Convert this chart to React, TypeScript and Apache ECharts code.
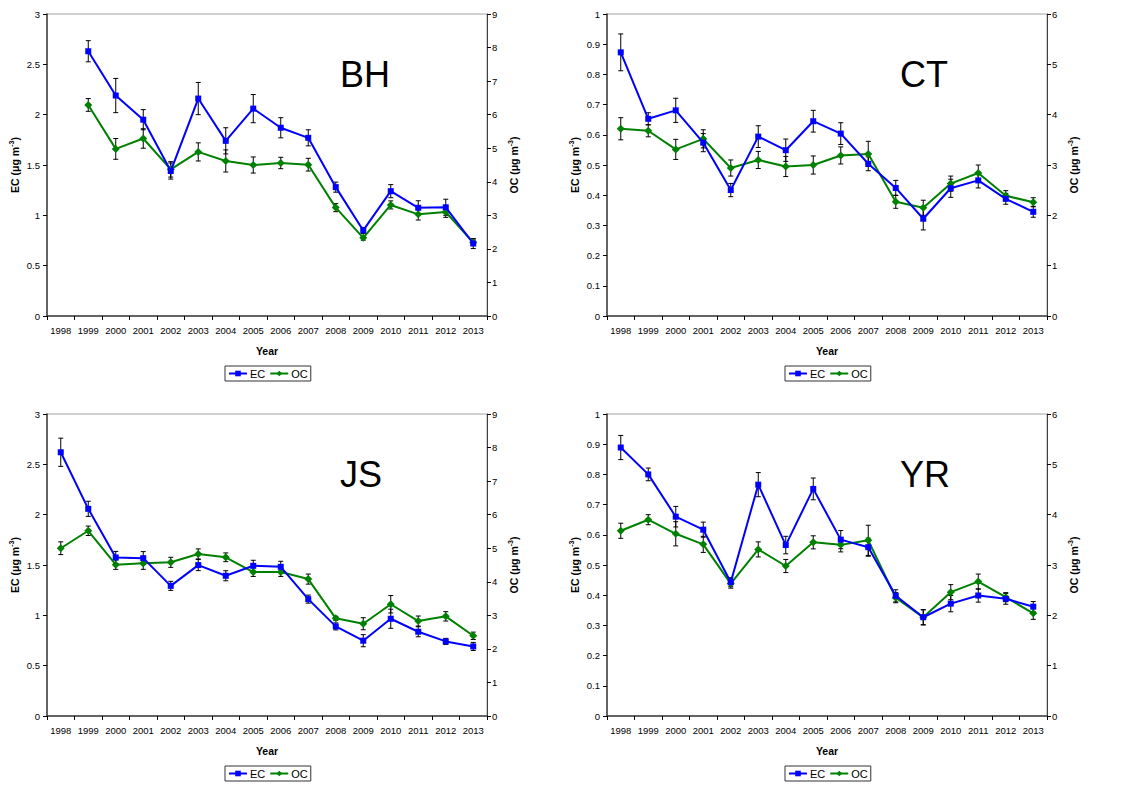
import React, { useEffect, useRef } from "react";
import * as echarts from "echarts";

const years = ["1998","1999","2000","2001","2002","2003","2004","2005","2006","2007","2008","2009","2010","2011","2012","2013"];
const sites = ["BH", "CT", "JS", "YR"];

// BH
const bhEC = [null, 2.63, 2.19, 1.95, 1.44, 2.16, 1.74, 2.06, 1.87, 1.77, 1.28, 0.85, 1.24, 1.075, 1.08, 0.72];
const bhECerr = [null, 0.105, 0.17, 0.1, 0.08, 0.16, 0.13, 0.14, 0.1, 0.08, 0.05, 0.03, 0.065, 0.07, 0.08, 0.05];
const bhOC = [null, 6.29, 4.98, 5.29, 4.37, 4.89, 4.62, 4.5, 4.56, 4.51, 3.23, 2.33, 3.31, 3.03, 3.1, 2.19];
const bhOCerr = [null, 0.19, 0.31, 0.29, 0.23, 0.27, 0.33, 0.24, 0.17, 0.19, 0.12, 0.07, 0.12, 0.17, 0.16, 0.08];
// CT
const ctEC = [0.873, 0.653, 0.681, 0.574, 0.417, 0.594, 0.549, 0.645, 0.604, 0.504, 0.424, 0.322, 0.423, 0.449, 0.388, 0.345];
const ctECerr = [0.061, 0.02, 0.04, 0.03, 0.022, 0.036, 0.037, 0.036, 0.036, 0.023, 0.025, 0.037, 0.03, 0.025, 0.018, 0.018];
const ctOC = [3.72, 3.68, 3.31, 3.52, 2.94, 3.1, 2.97, 3.0, 3.19, 3.22, 2.27, 2.15, 2.63, 2.84, 2.39, 2.26];
const ctOCerr = [0.22, 0.12, 0.2, 0.18, 0.16, 0.17, 0.2, 0.18, 0.17, 0.25, 0.13, 0.15, 0.15, 0.16, 0.1, 0.09];
// JS
const jsEC = [2.62, 2.058, 1.575, 1.568, 1.293, 1.499, 1.393, 1.492, 1.482, 1.161, 0.89, 0.748, 0.966, 0.837, 0.741, 0.691];
const jsECerr = [0.14, 0.075, 0.06, 0.065, 0.045, 0.055, 0.05, 0.055, 0.055, 0.04, 0.035, 0.06, 0.095, 0.05, 0.03, 0.04];
const jsOC = [5.0, 5.52, 4.51, 4.55, 4.58, 4.83, 4.73, 4.29, 4.29, 4.08, 2.91, 2.75, 3.33, 2.83, 2.97, 2.39];
const jsOCerr = [0.19, 0.14, 0.14, 0.18, 0.15, 0.15, 0.13, 0.13, 0.13, 0.15, 0.06, 0.18, 0.26, 0.15, 0.14, 0.11];
// YR
const yrEC = [0.889, 0.8, 0.66, 0.617, 0.443, 0.766, 0.566, 0.752, 0.584, 0.559, 0.398, 0.327, 0.372, 0.399, 0.388, 0.362];
const yrECerr = [0.04, 0.021, 0.034, 0.025, 0.015, 0.04, 0.029, 0.036, 0.03, 0.03, 0.02, 0.025, 0.027, 0.022, 0.018, 0.017];
const yrOC = [3.68, 3.9, 3.62, 3.41, 2.63, 3.31, 2.98, 3.45, 3.4, 3.49, 2.35, 1.96, 2.46, 2.67, 2.36, 2.04];
const yrOCerr = [0.15, 0.1, 0.24, 0.16, 0.09, 0.15, 0.13, 0.13, 0.14, 0.3, 0.1, 0.15, 0.15, 0.15, 0.09, 0.12];

const ecData = [bhEC, ctEC, jsEC, yrEC];
const ecErr = [bhECerr, ctECerr, jsECerr, yrECerr];
const ocData = [bhOC, ctOC, jsOC, yrOC];
const ocErr = [bhOCerr, ctOCerr, jsOCerr, yrOCerr];
const ecMax = [3, 1, 3, 1];
const ecInterval = [0.5, 0.1, 0.5, 0.1];
const ocMax = [9, 6, 9, 6];
const ocInterval = [1, 1, 1, 1];

const FONT = "'Liberation Sans', Arial, sans-serif";
const EC_COLOR = "#0000ff";
const OC_COLOR = "#008000";
const AXIS_COLOR = "#404040";

const panelPos = [
  { left: 47, top: 14 },
  { left: 607, top: 14 },
  { left: 47, top: 414 },
  { left: 607, top: 414 },
];
const PW = 440;
const PH = 302;

function errData(vals: (number | null)[], errs: (number | null)[]) {
  const out: any[] = [];
  vals.forEach((v, i) => {
    const e = errs[i];
    if (v != null && e != null) out.push([i, v - e, v + e]);
  });
  return out;
}

function renderErr(params: any, api: any) {
  const x = api.value(0);
  const lo = api.coord([x, api.value(1)]);
  const hi = api.coord([x, api.value(2)]);
  const w = 2.5;
  const style = { stroke: "#000", lineWidth: 1 };
  return {
    type: "group",
    children: [
      { type: "line", shape: { x1: lo[0], y1: lo[1], x2: hi[0], y2: hi[1] }, style },
      { type: "line", shape: { x1: lo[0] - w, y1: lo[1], x2: lo[0] + w, y2: lo[1] }, style },
      { type: "line", shape: { x1: hi[0] - w, y1: hi[1], x2: hi[0] + w, y2: hi[1] }, style },
    ],
  };
}

function nameRich(label: string) {
  return `{a|${label} (μg m}{s|-3}{a|)}`;
}
const richStyle = {
  a: { fontSize: 10.5, fontWeight: "bold", fontFamily: FONT, color: "#000" },
  s: { fontSize: 7, fontWeight: "bold", fontFamily: FONT, color: "#000", padding: [0, 0, 6, 0] },
};

export default function App() {
  const ref = useRef<HTMLDivElement>(null);
  useEffect(() => {
    if (!ref.current) return;
    const chart = echarts.init(ref.current, undefined, { renderer: "svg" });
    const grids: any[] = [];
    const xAxes: any[] = [];
    const yAxes: any[] = [];
    const series: any[] = [];
    const titles: any[] = [];
    const legends: any[] = [];
    for (let k = 0; k < 4; k++) {
      const p = panelPos[k];
      grids.push({
        left: p.left, top: p.top, width: PW, height: PH,
        show: true, borderColor: "#a0a0a0", borderWidth: 1, backgroundColor: "transparent",
      });
      xAxes.push({
        type: "category", gridIndex: k, data: years, boundaryGap: true,
        name: "Year", nameLocation: "middle", nameGap: 29,
        nameTextStyle: { fontSize: 10.5, fontWeight: "bold", fontFamily: FONT, color: "#000" },
        axisLine: { lineStyle: { color: AXIS_COLOR, width: 1.5 } },
        axisTick: { show: true, length: 4, alignWithLabel: false, lineStyle: { color: "#000" } },
        axisLabel: { fontSize: 9.5, fontFamily: FONT, color: "#000", margin: 9, interval: 0 },
        splitLine: { show: false },
      });
      yAxes.push({
        type: "value", gridIndex: k, position: "left", min: 0, max: ecMax[k], interval: ecInterval[k],
        name: nameRich("EC"), nameLocation: "middle", nameGap: 26, nameRotate: 90,
        nameTextStyle: { rich: richStyle },
        axisLine: { show: true, lineStyle: { color: AXIS_COLOR, width: 1.5 } },
        axisTick: { show: true, length: 4, lineStyle: { color: "#000" } },
        axisLabel: { fontSize: 9.5, fontFamily: FONT, color: "#000", margin: 7 },
        splitLine: { show: false },
      });
      yAxes.push({
        type: "value", gridIndex: k, position: "right", min: 0, max: ocMax[k], interval: ocInterval[k],
        name: nameRich("OC"), nameLocation: "middle", nameGap: 20, nameRotate: 90,
        nameTextStyle: { rich: richStyle },
        axisLine: { show: true, lineStyle: { color: AXIS_COLOR, width: 1 } },
        axisTick: { show: true, length: 4, lineStyle: { color: "#000" } },
        axisLabel: { fontSize: 9.5, fontFamily: FONT, color: "#000", margin: 5 },
        splitLine: { show: false },
      });
      series.push({
        type: "custom", name: "EC err", xAxisIndex: k, yAxisIndex: 2 * k,
        data: errData(ecData[k], ecErr[k]), renderItem: renderErr, z: 1,
        encode: { x: 0, y: [1, 2] }, silent: true,
      });
      series.push({
        type: "custom", name: "OC err", xAxisIndex: k, yAxisIndex: 2 * k + 1,
        data: errData(ocData[k], ocErr[k]), renderItem: renderErr, z: 1,
        encode: { x: 0, y: [1, 2] }, silent: true,
      });
      series.push({
        type: "line", name: "EC", xAxisIndex: k, yAxisIndex: 2 * k,
        data: ecData[k].map((v) => (v == null ? "-" : v)),
        symbol: "rect", symbolSize: 6, showSymbol: true, z: 3,
        lineStyle: { color: EC_COLOR, width: 2 }, itemStyle: { color: EC_COLOR },
      });
      series.push({
        type: "line", name: "OC", xAxisIndex: k, yAxisIndex: 2 * k + 1,
        data: ocData[k].map((v) => (v == null ? "-" : v)),
        symbol: "diamond", symbolSize: 8, showSymbol: true, z: 2,
        lineStyle: { color: OC_COLOR, width: 2 }, itemStyle: { color: OC_COLOR },
      });
      titles.push({
        text: sites[k], left: p.left + 293, top: p.top + 42, padding: 0,
        textStyle: { fontSize: 36, fontWeight: "normal", fontFamily: FONT, color: "#000" },
      });
      legends.push({
        data: ["EC", "OC"], left: p.left + 178, top: p.top + 352,
        orient: "horizontal", borderColor: "#333", borderWidth: 1, padding: [2, 3, 2, 3],
        itemWidth: 18, itemHeight: 7, itemGap: 4,
        textStyle: { fontSize: 11, fontFamily: FONT, color: "#000", padding: [0, 0, 0, -2] },
        selectedMode: false,
      });
    }
    chart.setOption({
      animation: false,
      backgroundColor: "#fff",
      title: titles,
      legend: legends,
      grid: grids,
      xAxis: xAxes,
      yAxis: yAxes,
      series,
    });
    return () => chart.dispose();
  }, []);
  return (
    <div
      ref={ref}
      style={{ position: "absolute", left: 0, top: 0, width: 1121, height: 786, background: "#fff" }}
    />
  );
}
